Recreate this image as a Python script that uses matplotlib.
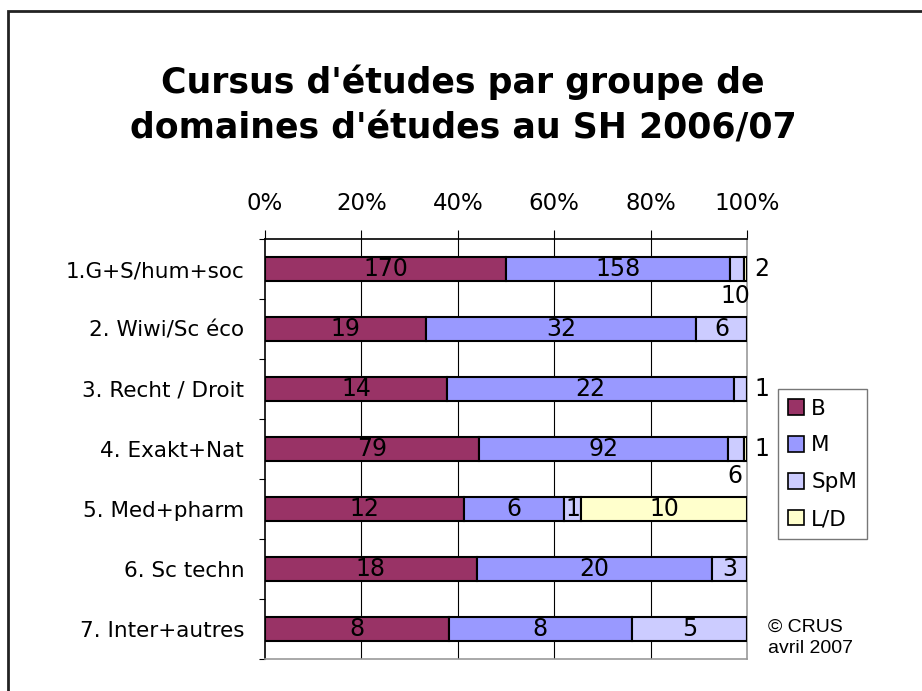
import numpy as np
import matplotlib.pyplot as plt
from matplotlib.patches import Patch, Rectangle

categories = ['1.G+S/hum+soc', '2. Wiwi/Sc éco', '3. Recht / Droit', '4. Exakt+Nat',
              '5. Med+pharm', '6. Sc techn', '7. Inter+autres']
series = ['B', 'M', 'SpM', 'L/D']
B = [170, 19, 14, 79, 12, 18, 8]
M = [158, 32, 22, 92, 6, 20, 8]
SpM = [10, 6, 1, 6, 1, 3, 5]
LD = [2, 0, 0, 1, 10, 0, 0]
colors = ['#993366', '#9999FF', '#CCCCFF', '#FFFFCC']

W, H = 922, 691
fig = plt.figure(figsize=(W / 100, H / 100), dpi=100)
ax = fig.add_axes([265 / W, 1 - 659 / H, (747 - 265) / W, (659 - 239) / H])

data = np.array([B, M, SpM, LD], dtype=float)
tot = data.sum(axis=0)
pct = data / tot * 100
y = np.arange(len(categories)) + 0.5

left = np.zeros(len(categories))
for k in range(4):
    ax.barh(y, pct[k], left=left, height=0.4, color=colors[k],
            edgecolor='black', linewidth=1.5, zorder=3)
    for i in range(len(categories)):
        v = data[k, i]
        if v == 0:
            continue
        cx = left[i] + pct[k, i] / 2
        # small segments: labels were moved outside the bar
        where = 'in'
        if k == 3 and pct[k, i] < 3:
            where = 'right'
        elif k == 2:
            if 0 < pct[3, i] < 3:
                where = 'below'
            elif LD[i] == 0 and pct[k, i] < 3:
                where = 'right'
        if where == 'right':
            ax.text(101.5, y[i], '%d' % v, ha='left', va='center', fontsize=17, zorder=4)
        elif where == 'below':
            ax.text(97.5, y[i] + 0.45, '%d' % v, ha='center', va='center', fontsize=17, zorder=4)
        else:
            ax.text(cx, y[i], '%d' % v, ha='center', va='center', fontsize=17, zorder=4)
    left = left + pct[k]

ax.set_xlim(0, 100)
ax.set_ylim(len(categories), 0)
ax.xaxis.tick_top()
ax.set_xticks(np.arange(0, 101, 20))
ax.set_xticklabels(['%d%%' % t for t in range(0, 101, 20)], fontsize=16.5)
ax.tick_params(axis='x', length=6.5, width=0.8, pad=11, colors='black')
for t in [20, 40, 60, 80]:
    ax.axvline(t, color='black', linewidth=0.8, zorder=1)

ax.set_yticks(y)
ax.set_yticklabels(categories, fontsize=15.5)
ax.tick_params(axis='y', which='major', length=0, pad=15)
ax.set_yticks(np.arange(len(categories) + 1), minor=True)
ax.tick_params(axis='y', which='minor', length=4, width=0.8)

ax.spines['top'].set_color('black')
ax.spines['left'].set_color('black')
ax.spines['right'].set_color('#999999')
ax.spines['bottom'].set_color('#999999')
for s in ax.spines.values():
    s.set_linewidth(1.2)

fig.text(463 / W, 1 - 82 / H, "Cursus d'études par groupe de", ha='center', va='center',
         fontsize=25, fontweight='bold')
fig.text(463 / W, 1 - 128 / H, "domaines d'études au SH 2006/07", ha='center', va='center',
         fontsize=25, fontweight='bold')

handles = [Patch(facecolor=c, edgecolor='black', linewidth=1.2) for c in colors]
leg = fig.legend(handles, series, loc='upper left', bbox_to_anchor=(778 / W, 1 - 389 / H),
                 fontsize=15.5, frameon=True, fancybox=False, handlelength=0.75, handleheight=0.75,
                 handletextpad=0.35, labelspacing=0.78, borderpad=0.45, borderaxespad=0)
leg.get_frame().set_edgecolor('#555555')
leg.get_frame().set_linewidth(1.0)

fig.text(768 / W, 1 - 638 / H, '© CRUS\navril 2007', ha='left', va='center',
         fontsize=14, family='Liberation Sans', linespacing=1.35)

fig.patches.append(Rectangle((8 / W, -0.1), 2, 1.1 - 11 / H, transform=fig.transFigure,
                             fill=False, edgecolor='#222222', linewidth=2))

fig.savefig('out.png', dpi=100)
